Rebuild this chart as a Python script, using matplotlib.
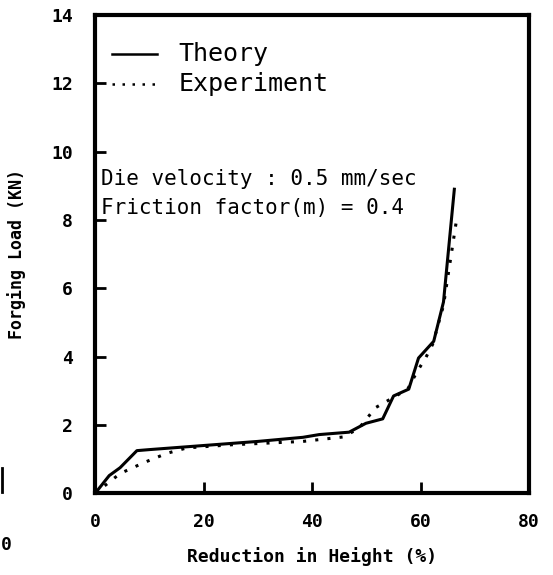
import matplotlib
matplotlib.use("Agg")
import matplotlib.pyplot as plt
from matplotlib.lines import Line2D

# Theory curve (solid)
theory_x = [0, 2.6, 4.6, 7.7, 10, 20, 30, 38.3, 41.3, 46.8, 49.9, 53, 55, 57.8, 59.6, 62.4, 64.2, 66.2]
theory_y = [0, 0.52, 0.75, 1.25, 1.28, 1.4, 1.52, 1.64, 1.72, 1.79, 2.05, 2.18, 2.85, 3.05, 3.96, 4.45, 5.6, 8.9]

# Experiment curve (dotted)
exp_x = [0, 4.6, 9, 13.2, 16.9, 25, 38.3, 45.7, 48.6, 51.7, 54.9, 57.6, 59.4, 60.9, 62.2, 64.2, 66.6]
exp_y = [0, 0.58, 0.9, 1.17, 1.33, 1.42, 1.52, 1.65, 1.9, 2.51, 2.8, 3.05, 3.58, 3.96, 4.36, 5.5, 8.0]

x_ticks = [0, 20, 40, 60, 80]
y_ticks = [0, 2, 4, 6, 8, 10, 12, 14]

mono = "DejaVu Sans Mono"
dotted = (0, (1, 3))

fig = plt.figure(figsize=(5.53, 5.75), dpi=100)
ax = fig.add_axes([0.172, 0.142, 0.785, 0.832])

ax.plot(theory_x, theory_y, color="black", lw=2.2)
ax.plot(exp_x, exp_y, color="black", lw=2.2, linestyle=dotted)

ax.set_xlim(0, 80)
ax.set_ylim(0, 14)
ax.set_xticks(x_ticks)
ax.set_yticks(y_ticks)
ax.tick_params(direction="in", length=8, width=2, top=False, right=False)
ax.tick_params(axis="x", pad=14)
ax.tick_params(axis="y", pad=16)
for lab in ax.get_xticklabels() + ax.get_yticklabels():
    lab.set_fontfamily(mono)
    lab.set_fontweight("bold")
    lab.set_fontsize(13)
for sp in ax.spines.values():
    sp.set_linewidth(3)

ax.set_xlabel("Reduction in Height (%)", fontfamily=mono, fontweight="bold", fontsize=13, labelpad=12)
ax.set_ylabel("Forging Load (KN)", fontfamily=mono, fontweight="bold", fontsize=12, labelpad=18)

# hand-drawn legend
ax.plot([3.1, 11.4], [12.85, 12.85], color="black", lw=1.8)
ax.plot([3.1, 11.4], [11.97, 11.97], color="black", lw=1.8, linestyle=dotted)
ax.text(15.3, 12.85, "Theory", fontfamily=mono, fontsize=18, va="center")
ax.text(15.3, 11.97, "Experiment", fontfamily=mono, fontsize=18, va="center")

ax.text(1, 9.2, "Die velocity : 0.5 mm/sec", fontfamily=mono, fontsize=15, va="center")
ax.text(1, 8.35, "Friction factor(m) = 0.4", fontfamily=mono, fontsize=15, va="center")

# scan leftovers from the neighbouring figure
fig.text(0.002, 1 - 545 / 575, "0", fontfamily=mono, fontweight="bold", fontsize=13, va="center")
fig.add_artist(Line2D([0.004, 0.004], [1 - 492 / 575, 1 - 468 / 575], color="black", lw=2))

fig.savefig("out.png", dpi=100)
